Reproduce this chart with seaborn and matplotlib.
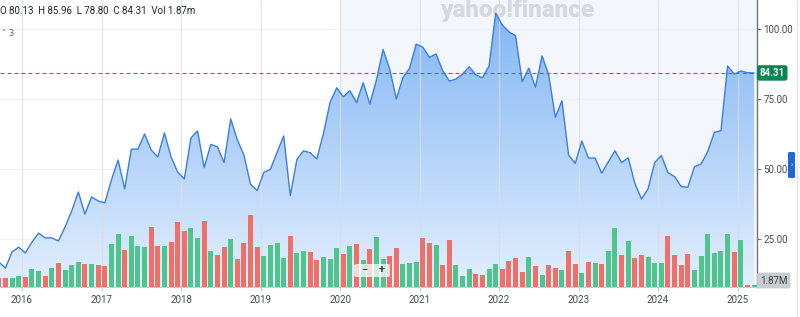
import numpy as np
import pandas as pd
import matplotlib
matplotlib.use("Agg")
import matplotlib.pyplot as plt
import matplotlib.transforms as mtransforms
from matplotlib.colors import LinearSegmentedColormap
from matplotlib.patches import PathPatch, FancyBboxPatch
from matplotlib.lines import Line2D
import seaborn as sns

# ---------------- data ----------------
months = pd.date_range("2015-09-01", "2025-03-01", freq="MS")

close = [16.8, 14.6, 20.4, 22.1,
         20.0, 23.9, 27.1, 25.4, 25.4, 24.3, 29.3, 35.0, 41.8, 33.9, 40.0, 38.6,
         37.9, 46.1, 53.2, 42.9, 57.1, 57.1, 62.5, 56.8, 54.3, 62.9, 54.3, 48.9,
         46.4, 61.1, 63.6, 50.5, 58.8, 57.9, 52.3, 67.9, 60.4, 55.0, 44.5, 42.3,
         48.8, 49.9, 56.0, 61.8, 40.5, 53.5, 56.5, 55.8, 53.6, 62.7, 73.8, 79.0,
         75.8, 77.9, 73.7, 80.8, 73.2, 81.8, 92.7, 85.7, 75.0, 82.7, 86.0, 94.6,
         93.5, 89.9, 91.1, 85.1, 81.4, 82.1, 83.9, 86.5, 83.6, 82.6, 86.8, 105.6,
         101.4, 99.0, 97.6, 81.2, 86.0, 79.2, 90.4, 83.6, 68.5, 74.4, 55.0, 52.0,
         60.0, 53.9, 53.9, 48.5, 52.6, 56.5, 52.3, 54.0, 44.9, 39.3, 42.9, 52.3,
         54.8, 48.7, 47.3, 43.7, 43.5, 50.8, 51.8, 56.2, 63.1, 63.7, 86.8, 83.9,
         85.0, 84.4, 84.31]

volume_m = [9.6, 10.2, 10.2, 12.1,
            11.3, 19.8, 17.9, 12.1, 20.6, 26.4, 18.7, 24.2, 27.8, 25.6, 25.0, 24.2,
            23.4, 47.0, 58.0, 40.7, 56.1, 45.1, 44.3, 66.3, 45.1, 45.1, 49.2, 71.2,
            61.9, 64.6, 54.2, 72.6, 39.6, 35.2, 44.3, 52.8, 31.1, 48.1, 79.2, 43.7,
            34.1, 45.9, 48.1, 32.2, 56.1, 37.1, 39.6, 38.8, 29.7, 33.3, 31.1, 42.6,
            36.3, 45.1, 47.3, 29.7, 41.5, 55.0, 31.1, 34.1, 42.6, 25.3, 26.1, 27.8,
            53.6, 48.1, 46.2, 24.2, 51.7, 24.2, 12.1, 20.1, 14.0, 13.2, 20.1, 25.0,
            20.1, 28.6, 31.9, 16.8, 32.7, 23.1, 12.9, 23.9, 20.9, 18.7, 39.6, 25.3,
            15.7, 27.8, 26.7, 25.3, 39.6, 65.2, 35.2, 50.9, 31.6, 35.2, 33.3, 26.7,
            26.1, 56.4, 35.2, 23.9, 36.3, 18.7, 34.4, 58.0, 37.1, 39.6, 58.0, 38.2,
            52.0, 1.9, 1.87]

direction = ["down", "down", "up", "up",
             "down", "up", "up", "down", "up", "down", "up", "up", "up", "down", "up", "down",
             "down", "up", "up", "down", "up", "up", "up", "down", "down", "up", "down", "down",
             "down", "up", "up", "down", "up", "down", "down", "up", "down", "down", "down", "down",
             "up", "up", "up", "up", "down", "up", "up", "down", "down", "up", "up", "up",
             "down", "up", "down", "up", "down", "up", "up", "down", "down", "up", "up", "up",
             "down", "down", "up", "down", "down", "up", "up", "up", "down", "down", "up", "up",
             "down", "down", "down", "down", "up", "down", "up", "down", "down", "up", "down", "down",
             "up", "down", "up", "down", "up", "up", "down", "up", "down", "down", "up", "up",
             "up", "down", "down", "down", "down", "up", "up", "up", "up", "up", "up", "down",
             "up", "down", "up"]

year_ticks = [2016, 2017, 2018, 2019, 2020, 2021, 2022, 2023, 2024, 2025]
price_ticks = [25, 50, 75, 100]
last_close = 84.31
last_volume_label = "1.87M"
header_text = "O 80.13  H 85.96  L 78.80  C 84.31  Vol 1.87m"
shade_start_year = 2020

# ---------------- styling ----------------
sns.set_style("white")
plt.rcParams["font.family"] = ["Roboto", "DejaVu Sans"]

W, H = 800, 317
fig = plt.figure(figsize=(W / 100, H / 100), dpi=100)
ax = fig.add_axes([0, 30 / H, 757 / W, 287 / H])
ax2 = ax.twinx()

t = months.year + (months.month - 1) / 12 + 1 / 24
df = pd.DataFrame({"t": t, "close": close, "vol": volume_m, "dir": direction})

XMIN, XMAX = 2015.7233, 2025.245
YMIN, YMAX = 7.86, 110.36

# background shading (recent 5 years)
ax.axvspan(shade_start_year, XMAX, color="#f3f6fa", lw=0, zorder=0.2)

# horizontal faint grid
for p in price_ticks:
    ax.axhline(p, color="#eef0f3", lw=0.8, zorder=0.4)

# watermark
ax.text(440 / W, 1 - 17.5 / H, "yahoo!finance", transform=fig.transFigure,
        fontsize=17.5, fontweight=900, color="#d5d9df", ha="left",
        va="baseline", zorder=0.6)

# gradient area fill
poly = ax.fill_between(df["t"], df["close"], 0, color="none", lw=0)
clip = PathPatch(poly.get_paths()[0], transform=ax.transData,
                 facecolor="none", edgecolor="none")
ax.add_patch(clip)
cmap = LinearSegmentedColormap.from_list("g", ["#e3effd", "#7fb3f4"])
grad = np.linspace(0, 1, 256).reshape(-1, 1)
im = ax.imshow(grad, extent=[XMIN, XMAX, YMIN, YMAX], origin="lower",
               aspect="auto", cmap=cmap, zorder=1)
im.set_clip_path(clip)

# vertical year grid
for y in year_ticks:
    ax.axvline(y, color="#d9dee4", lw=0.8, alpha=0.85, zorder=1.5)

# price line
sns.lineplot(data=df, x="t", y="close", ax=ax, color="#3a7fe0",
             linewidth=1.0, zorder=3)

# last price dashed line
ax.axhline(last_close, color="#2f8c68", lw=0.8, ls=(0, (3.6, 2.7)), zorder=2.5)

# volume bars
sns.barplot(data=df, x="t", y="vol", hue="dir", ax=ax2, native_scale=True,
            palette={"up": "#4fc48d", "down": "#ef6f69"}, saturation=1,
            width=0.75, dodge=False, legend=False, linewidth=0)

ax.set_xlim(XMIN, XMAX)
ax.set_ylim(YMIN, YMAX)
ax2.set_xlim(XMIN, XMAX)
ax2.set_ylim(0, 287 * 1.1)

# axes decorations
ax.set_xlabel("")
ax.set_ylabel("")
ax2.set_xlabel("")
ax2.set_ylabel("")
ax2.set_yticks([])
for s in ax2.spines.values():
    s.set_visible(False)
for s in ["top", "left"]:
    ax.spines[s].set_visible(False)
ax.spines["right"].set_visible(True)
ax.spines["right"].set_color("#70757b")
ax.spines["right"].set_linewidth(1.0)
ax.spines["bottom"].set_color("#c8cdd3")
ax.spines["bottom"].set_linewidth(0.8)

ax.set_xticks(year_ticks)
ax.set_xticklabels([str(y) for y in year_ticks])
ax.tick_params(axis="x", direction="out", length=3, width=0.8, color="#c8cdd3",
               labelsize=7, labelcolor="#464b51", pad=2.5, bottom=True)
ax.yaxis.tick_right()
ax.set_yticks(price_ticks)
ax.set_yticklabels([f"{p:.2f}" for p in price_ticks])
ax.tick_params(axis="y", direction="out", length=3, width=0.8, color="#70757b",
               labelsize=7, labelcolor="#464b51", pad=1.5, right=True, left=False)
ax.grid(False)
ax2.grid(False)

# last price label
blend = mtransforms.blended_transform_factory(ax.transAxes, ax.transData)
ax.text(1.0035, last_close, f"{last_close:.2f}", transform=blend, ha="left",
        va="center", fontsize=7, color="white", fontweight="bold", zorder=10,
        clip_on=False,
        bbox=dict(boxstyle="round,pad=0.28,rounding_size=0.25", fc="#0c8550", ec="none"))

# last volume label
fig.text(760 / W, 1 - 280.5 / H, last_volume_label, ha="left", va="center",
         fontsize=7, color="#3c4147",
         bbox=dict(boxstyle="round,pad=0.3,rounding_size=0.2", fc="#c9cdd2", ec="none"))

# header
fig.text(0.5 / W, 1 - 10.5 / H, header_text, ha="left", va="center",
         fontsize=7.0, color="#1f252b")
fig.text(2 / W, 1 - 33.5 / H, "˅ 3", ha="left", va="center", fontsize=6,
         color="#5b636a", family=["DejaVu Sans"])

# zoom control overlay
zc = FancyBboxPatch((354 / W, 1 - 277 / H), 36 / W, 13 / H,
                    boxstyle="round,pad=0,rounding_size=0.004",
                    transform=fig.transFigure, fc="white", ec="none", alpha=0.75,
                    zorder=20)
fig.patches.append(zc)
fig.text(364 / W, 1 - 270.5 / H, "−", ha="center", va="center", fontsize=8,
         color="#3c4147", fontweight="bold", zorder=21)
fig.text(382 / W, 1 - 270.5 / H, "+", ha="center", va="center", fontsize=8,
         color="#3c4147", fontweight="bold", zorder=21)

# right-side panel bits
tab = FancyBboxPatch((788 / W, 1 - 178 / H), 7 / W, 26 / H,
                     boxstyle="round,pad=0,rounding_size=0.003",
                     transform=fig.transFigure, fc="#1d67d8", ec="none")
fig.patches.append(tab)
fig.text(791.5 / W, 1 - 165 / H, "›", ha="center", va="center", fontsize=5,
         color="white")
fig.add_artist(Line2D([796.5 / W, 796.5 / W], [0, 1], color="#e2e5e9", lw=1,
                      transform=fig.transFigure))

fig.savefig("out.png", dpi=100)
